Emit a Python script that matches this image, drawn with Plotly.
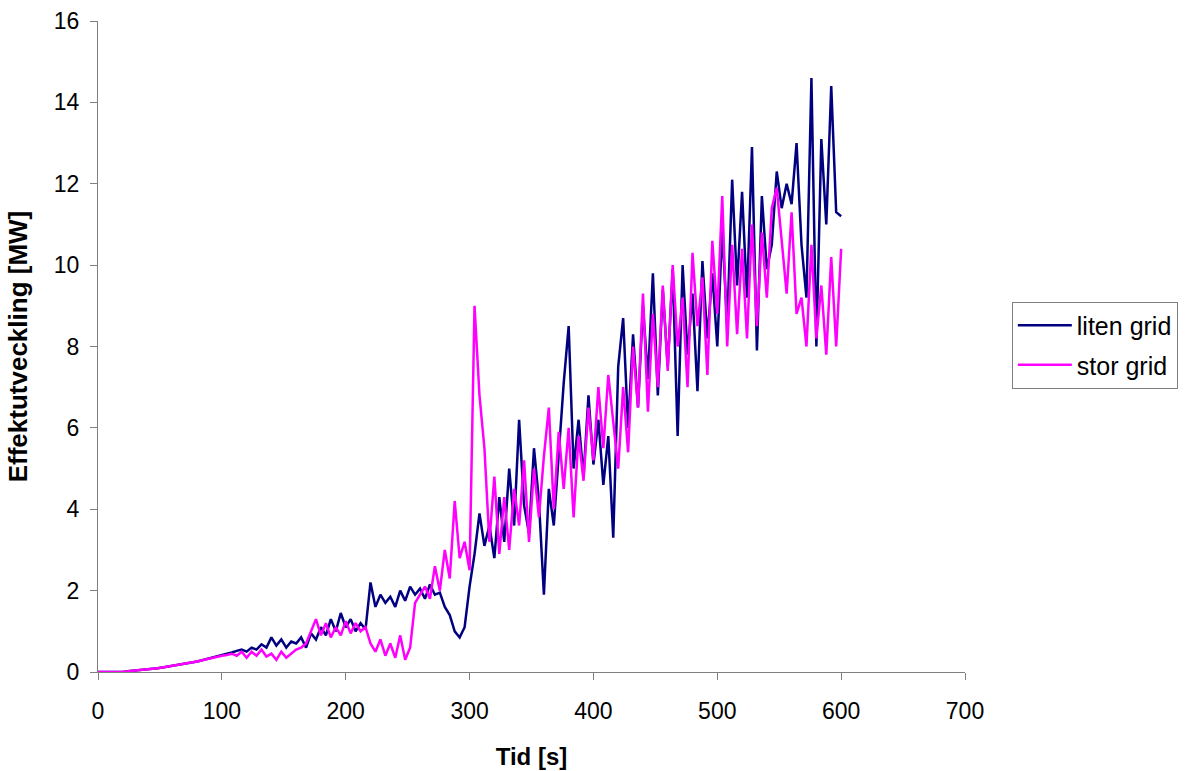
import plotly.graph_objects as go

t = list(range(0, 601, 4))

liten = [0, 0, 0, 0, 0, 0,
         0.02, 0.03, 0.04, 0.05, 0.06, 0.08, 0.09, 0.11, 0.13, 0.15, 0.17, 0.19, 0.21, 0.24,
         0.26, 0.29, 0.32, 0.35, 0.38, 0.41,
         0.45, 0.48, 0.52, 0.55, 0.5, 0.6, 0.55, 0.68, 0.6, 0.85, 0.65, 0.8, 0.6, 0.75, 0.7,
         0.85, 0.6, 0.95, 0.8, 1.1, 0.9, 1.3, 1.0, 1.45, 1.1, 1.3, 1.0, 1.2, 1.05,
         2.2, 1.6, 1.9, 1.7, 1.85, 1.6, 2.0, 1.75, 2.1, 1.9, 2.05, 1.8, 2.15, 1.9, 1.95,
         1.6, 1.4, 1.0, 0.85, 1.1, 2.1, 2.9, 3.9, 3.1, 3.6, 2.8, 4.3, 3.2, 5.0, 3.6,
         6.2, 4.1, 3.4, 5.5, 4.2, 1.9, 4.5, 3.6, 5.3, 7.1, 8.5, 5.0, 6.2, 4.8, 6.8,
         5.1, 6.2, 4.6, 5.8, 3.3, 7.5, 8.7, 6.0, 8.3, 6.5, 9.0, 7.2, 9.8, 6.8, 9.4,
         7.5, 9.9, 5.8, 10.0, 7.8, 9.3, 6.9, 10.1, 8.2, 9.8, 8.0, 10.9, 8.5, 12.1, 9.5,
         11.8, 9.2, 12.9, 7.9, 11.7, 9.9, 10.5, 12.3, 11.4, 12.0, 11.5, 13.0, 10.5, 9.2,
         14.6, 8.0, 13.1, 11.0, 14.4, 11.3, 11.2]

stor = [0, 0, 0, 0, 0, 0,
        0.02, 0.03, 0.04, 0.05, 0.06, 0.08, 0.09, 0.11, 0.13, 0.15, 0.17, 0.19, 0.21, 0.24,
        0.26, 0.29, 0.32, 0.35, 0.38, 0.40,
        0.42, 0.45, 0.4, 0.5, 0.35, 0.5, 0.4, 0.55, 0.38, 0.45, 0.3, 0.5, 0.35, 0.45, 0.55,
        0.6, 0.7, 1.0, 1.3, 0.9, 1.2, 0.85, 1.1, 0.9, 1.25, 0.95, 1.2, 1.0, 1.1,
        0.7, 0.5, 0.8, 0.4, 0.7, 0.35, 0.9, 0.3, 0.6, 1.7, 1.9, 2.1, 1.8, 2.6, 2.0,
        3.0, 2.3, 4.2, 2.8, 3.2, 2.5, 9.0, 6.8, 5.5, 3.2, 4.8, 2.9, 4.3, 3.0, 4.5,
        3.6, 5.2, 3.2, 5.0, 3.8, 5.3, 6.5, 4.0, 5.9, 4.5, 6.0, 3.8, 5.8, 4.7, 6.5,
        5.2, 7.0, 5.5, 7.3, 6.2, 5.0, 7.0, 5.4, 8.0, 6.5, 9.3, 6.4, 8.8, 7.0, 9.5,
        7.4, 10.0, 8.0, 9.2, 7.0, 10.3, 8.5, 9.7, 7.3, 10.6, 8.8, 11.7, 8.0, 10.5, 8.3,
        10.4, 8.2, 11.0, 8.5, 10.8, 9.2, 11.4, 11.9, 10.6, 9.3, 11.3, 8.8, 9.2, 8.0,
        10.5, 8.2, 9.5, 7.8, 10.2, 8.0, 10.4]

x_ticks = [0, 100, 200, 300, 400, 500, 600, 700]
y_ticks = [0, 2, 4, 6, 8, 10, 12, 14, 16]

font = "Liberation Sans, Arial, sans-serif"

fig = go.Figure()
fig.add_trace(go.Scatter(x=t, y=liten, mode="lines", name="liten grid", legendgroup="a",
                         line=dict(color="#000080", width=2.5)))
fig.add_trace(go.Scatter(x=t, y=stor, mode="lines", name="stor grid", legendgroup="b",
                         line=dict(color="#FF00FF", width=2.5)))

fig.update_layout(
    width=1186, height=771,
    margin=dict(l=98, r=221, t=21, b=99, autoexpand=False),
    paper_bgcolor="white", plot_bgcolor="white",
    font=dict(family=font, size=23, color="black"),
    showlegend=True,
    legend=dict(x=1.054, y=0.569, xanchor="left", yanchor="top",
                bordercolor="#808080", borderwidth=1,
                font=dict(family=font, size=25, color="black"),
                itemwidth=54, tracegroupgap=4),
    xaxis=dict(range=[0, 700], tickvals=x_ticks,
               showgrid=False, zeroline=False, showline=True, linecolor="#808080",
               linewidth=1, ticks="outside", ticklen=7, tickcolor="#808080",
               tickfont=dict(size=23), ticklabelstandoff=11,
               title=dict(text="<b>Tid [s]</b>", font=dict(size=24), standoff=25)),
    yaxis=dict(range=[0, 16], tickvals=y_ticks,
               showgrid=False, zeroline=False, showline=True, linecolor="#808080",
               linewidth=1, ticks="outside", ticklen=7, tickcolor="#808080",
               tickfont=dict(size=23), ticklabelstandoff=6,
               title=dict(text="<b>Effektutveckling [MW]</b>", font=dict(size=26), standoff=18)),
)

fig.write_html("out.html")
